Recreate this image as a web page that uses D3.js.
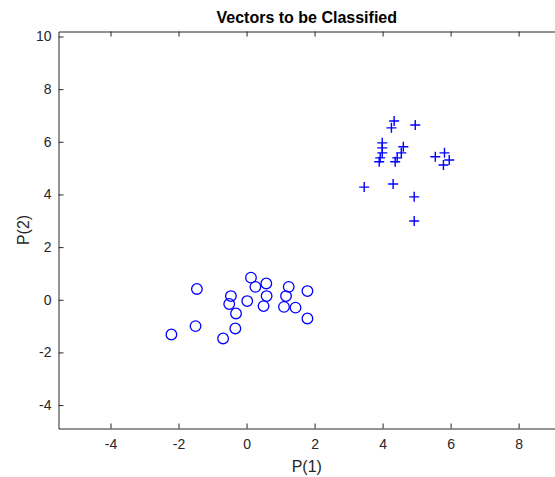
<!DOCTYPE html>
<html>
<head>
<meta charset="utf-8">
<script src="https://cdn.jsdelivr.net/npm/d3@7"></script>
<style>
  body { margin: 0; background: #fff; }
  svg { display: block; font-family: "Liberation Sans", Arial, sans-serif; }
</style>
</head>
<body>
<div id="chart"></div>
<script>
// class 1 vectors (plotted with "+")
const plusX = [4.34, 4.26, 4.96, 3.99, 3.99, 3.99, 3.93, 3.90, 4.61, 4.55, 4.43, 4.37, 5.55, 5.82, 5.96, 5.79, 3.46, 4.31, 4.93, 4.93];
const plusY = [6.79, 6.53, 6.64, 5.96, 5.77, 5.58, 5.39, 5.24, 5.81, 5.58, 5.39, 5.24, 5.43, 5.58, 5.31, 5.12, 4.28, 4.40, 3.91, 2.99];

// class 0 vectors (plotted with "o")
const circX = [0.13, 0.26, 0.58, 1.24, 1.79, -1.46, -0.46, -0.51, 0.02, 0.59, 1.16, 0.50, 1.10, 1.44, -0.31, 1.79, -1.50, -0.33, -2.21, -0.69];
const circY = [0.84, 0.49, 0.62, 0.49, 0.33, 0.41, 0.14, -0.16, -0.05, 0.14, 0.14, -0.24, -0.27, -0.30, -0.52, -0.71, -1.00, -1.09, -1.32, -1.47];

const xTicks = [-4, -2, 0, 2, 4, 6, 8];
const yTicks = [-4, -2, 0, 2, 4, 6, 8, 10];

const width = 555;
const height = 477;
const margin = {top: 31.5, right: 0, bottom: 48.5, left: 58.5};
const innerWidth = width - margin.left - margin.right;
const innerHeight = height - margin.top - margin.bottom;

const svg = d3.select("#chart")
  .append("svg")
    .attr("width", width)
    .attr("height", height);

const inner = svg.append("g")
  .attr("transform", `translate(${margin.left}, ${margin.top})`);

const xScale = d3.scaleLinear()
  .domain([-5.53, 9.07])
  .range([0, innerWidth]);

const yScale = d3.scaleLinear()
  .domain([-4.89, 10.19])
  .range([innerHeight, 0]);

const axisColor = "#262626";
const blue = "#0000ff";
const plain = d => String(d); // hyphen minus like matlab

// axes, ticks inward like matlab
const bottomAxis = d3.axisBottom(xScale).tickValues(xTicks).tickFormat(plain)
  .tickSizeInner(-5).tickSizeOuter(0).tickPadding(11);
const topAxis = d3.axisTop(xScale).tickValues(xTicks)
  .tickSizeInner(-5).tickSizeOuter(0);
const leftAxis = d3.axisLeft(yScale).tickValues(yTicks).tickFormat(plain)
  .tickSizeInner(-5).tickSizeOuter(0).tickPadding(7);

inner.append("g")
  .attr("class", "axis-x")
  .attr("transform", `translate(0, ${innerHeight})`)
  .call(bottomAxis);
inner.append("g")
  .attr("class", "axis-top")
  .call(topAxis);
inner.append("g")
  .attr("class", "axis-y")
  .call(leftAxis);

svg.selectAll(".axis-top text").remove();
svg.selectAll(".domain, .tick line")
  .attr("stroke", axisColor)
  .attr("stroke-width", 1);
svg.selectAll(".axis-x text, .axis-y text")
  .attr("fill", axisColor)
  .style("font-size", "14px")
  .style("font-family", "'Liberation Sans', Arial, sans-serif");
svg.selectAll(".axis-x text").attr("dy", "0.71em");

// circles
inner.selectAll("circle.pt")
  .data(circX.map((x, i) => ({x, y: circY[i]})))
  .join("circle")
    .attr("class", "pt")
    .attr("cx", d => xScale(d.x))
    .attr("cy", d => yScale(d.y))
    .attr("r", 5.3)
    .attr("fill", "none")
    .attr("stroke", blue)
    .attr("stroke-width", 1.3);

// plus markers
const s = 5;
inner.selectAll("path.plus")
  .data(plusX.map((x, i) => ({x, y: plusY[i]})))
  .join("path")
    .attr("class", "plus")
    .attr("d", d => {
      const cx = xScale(d.x), cy = yScale(d.y);
      return `M${cx - s},${cy}H${cx + s}M${cx},${cy - s}V${cy + s}`;
    })
    .attr("fill", "none")
    .attr("stroke", blue)
    .attr("stroke-width", 1.4);

// labels
svg.append("text")
  .text("Vectors to be Classified")
  .attr("x", margin.left + innerWidth / 2)
  .attr("y", 23)
  .attr("text-anchor", "middle")
  .attr("font-weight", "bold")
  .attr("font-size", 16)
  .attr("fill", "#000");

svg.append("text")
  .text("P(1)")
  .attr("x", margin.left + innerWidth / 2)
  .attr("y", 472)
  .attr("text-anchor", "middle")
  .attr("font-size", 16)
  .attr("fill", axisColor);

svg.append("text")
  .text("P(2)")
  .attr("transform", `translate(29, ${margin.top + innerHeight / 2}) rotate(-90)`)
  .attr("text-anchor", "middle")
  .attr("font-size", 16)
  .attr("fill", axisColor);
</script>
</body>
</html>
